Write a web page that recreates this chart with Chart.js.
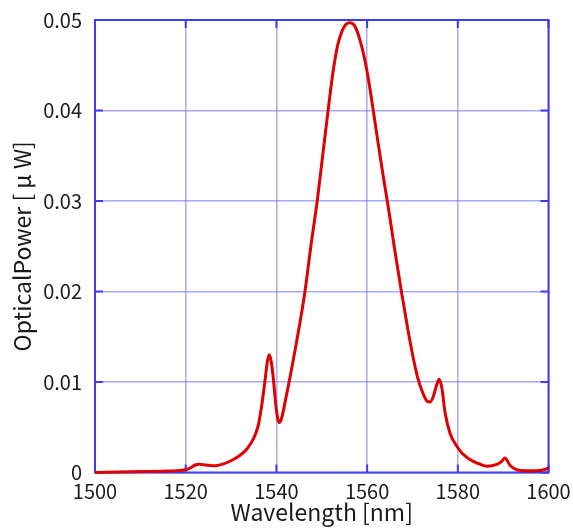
<!DOCTYPE html>
<html>
<head>
<meta charset="utf-8">
<script src="https://cdn.jsdelivr.net/npm/chart.js@4/dist/chart.umd.min.js"></script>
<style>
  html, body { margin: 0; padding: 0; background: #fff; overflow: hidden; }
  #wrap { width: 573px; height: 529px; }
</style>
</head>
<body>
<div id="wrap"><canvas id="spectrum"></canvas></div>
<script>
// wavelength [nm] and optical power [uW]
const wavelengths = [1500, 1505, 1510, 1515, 1518, 1520, 1521, 1522, 1523, 1524, 1525, 1526.5, 1528, 1530, 1532, 1533.5, 1535, 1536, 1536.7, 1537.5, 1538, 1538.4, 1538.8, 1539.3, 1539.8, 1540.2, 1540.6, 1541.2, 1542, 1543, 1544, 1545, 1546.3, 1547.6, 1549, 1550.2, 1551.4, 1552.5, 1553.5, 1554.5, 1555.3, 1556.2, 1557.2, 1558.3, 1559.5, 1560.6, 1562.1, 1563.6, 1564.9, 1566, 1567.5, 1569.1, 1570.2, 1571.2, 1572.2, 1573.2, 1573.9, 1574.6, 1575.3, 1575.9, 1576.5, 1577.2, 1578.3, 1579.8, 1581, 1582.5, 1584, 1586.4, 1588.6, 1589.6, 1590.4, 1591.5, 1593, 1595, 1597.4, 1599, 1600];
const powers = [0.0, 0.00005, 0.0001, 0.00015, 0.0002, 0.0003, 0.0005, 0.0008, 0.0009, 0.00085, 0.0008, 0.00075, 0.0009, 0.0013, 0.0019, 0.0026, 0.0038, 0.0052, 0.0072, 0.0102, 0.0122, 0.013, 0.0124, 0.0105, 0.0078, 0.0062, 0.0055, 0.0061, 0.008, 0.0105, 0.0132, 0.016, 0.02, 0.025, 0.03, 0.035, 0.04, 0.0443, 0.0472, 0.0488, 0.0495, 0.0497, 0.0494, 0.048, 0.0456, 0.0425, 0.0375, 0.0326, 0.0286, 0.0249, 0.0202, 0.0155, 0.0126, 0.0104, 0.0089, 0.0079, 0.0078, 0.0084, 0.0096, 0.0103, 0.0093, 0.0066, 0.0043, 0.0029, 0.0021, 0.0015, 0.0011, 0.0007, 0.0009, 0.0012, 0.0016, 0.0008, 0.0003, 0.0002, 0.0002, 0.0003, 0.0005];
const xTicks = [1500, 1520, 1540, 1560, 1580, 1600];
const yTicks = [0, 0.01, 0.02, 0.03, 0.04, 0.05];

const FRAME = '#3c3cf0';
const GRID = 'rgba(110, 110, 245, 0.6)';
const FONT = 'Noto Sans CJK JP';

// box round the plot, with short ticks pointing inwards
const framePlugin = {
  id: 'frame',
  beforeDatasetsDraw(chart) {
    const { ctx, chartArea: a, scales } = chart;
    const len = 8;
    ctx.save();
    ctx.strokeStyle = FRAME;
    ctx.lineWidth = 2;
    ctx.beginPath();
    xTicks.forEach(v => {
      const px = scales.x.getPixelForValue(v);
      ctx.moveTo(px, a.bottom); ctx.lineTo(px, a.bottom - len);
      ctx.moveTo(px, a.top); ctx.lineTo(px, a.top + len);
    });
    yTicks.forEach(v => {
      const py = scales.y.getPixelForValue(v);
      ctx.moveTo(a.left, py); ctx.lineTo(a.left + len, py);
      ctx.moveTo(a.right, py); ctx.lineTo(a.right - len, py);
    });
    ctx.stroke();
    ctx.strokeRect(a.left, a.top, a.right - a.left, a.bottom - a.top);
    ctx.restore();
  }
};

// keep the label overhang from shrinking the plot area
function noOverhang(s) {
  s.paddingLeft = 0; s.paddingRight = 0; s.paddingTop = 0; s.paddingBottom = 0;
}

const ctx = document.getElementById('spectrum').getContext('2d');
new Chart(ctx, {
  type: 'line',
  data: {
    datasets: [{
      data: wavelengths.map((w, i) => ({ x: w, y: powers[i] })),
      borderColor: '#e00000',
      borderWidth: 3,
      pointRadius: 0,
      cubicInterpolationMode: 'monotone',
      clip: 4,
    }],
  },
  options: {
    responsive: true,
    maintainAspectRatio: false,
    animation: false,
    layout: { padding: { left: 0, right: 24.5, top: 20, bottom: 0 } },
    plugins: {
      legend: { display: false },
      tooltip: { enabled: false },
    },
    scales: {
      x: {
        type: 'linear',
        min: 1500,
        max: 1600,
        afterFit: s => { s.height = 56.5; noOverhang(s); },
        afterBuildTicks: s => { s.ticks = xTicks.map(v => ({ value: v })); },
        border: { display: false },
        grid: { color: GRID, lineWidth: 1.5, drawTicks: false },
        ticks: {
          padding: 6.5,
          color: '#1a1a1a',
          font: { family: FONT, size: 20 },
          callback: v => String(v),
        },
        title: {
          display: true,
          text: 'Wavelength [nm]',
          color: '#1a1a1a',
          font: { family: FONT, size: 23 },
          padding: { top: 0, bottom: 3 },
        },
      },
      y: {
        min: 0,
        max: 0.05,
        afterFit: s => { s.width = 95; noOverhang(s); },
        afterBuildTicks: s => { s.ticks = yTicks.map(v => ({ value: v })); },
        border: { display: false },
        grid: { color: GRID, lineWidth: 1.5, drawTicks: false },
        ticks: {
          padding: 13,
          color: '#1a1a1a',
          font: { family: FONT, size: 20 },
          callback: v => (v === 0 ? '0' : v.toFixed(2)),
        },
        title: {
          display: true,
          text: 'OpticalPower [ μ W]',
          color: '#1a1a1a',
          font: { family: FONT, size: 23 },
          padding: { top: 8, bottom: 0 },
        },
      },
    },
  },
  plugins: [framePlugin],
});
</script>
</body>
</html>
